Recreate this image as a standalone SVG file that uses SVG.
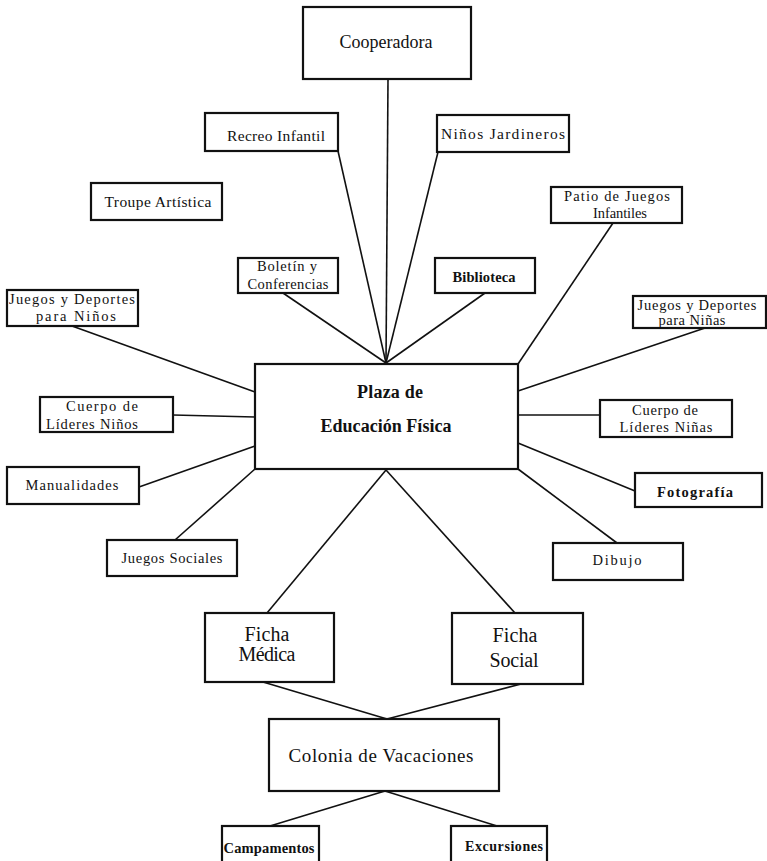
<svg xmlns="http://www.w3.org/2000/svg" width="767" height="861" viewBox="0 0 767 861">
<style>
.box{fill:#fff;stroke:#111;stroke-width:2.2}
.ln{stroke:#111;stroke-width:1.6;fill:none}
text{font-family:"Liberation Serif","Times New Roman",serif;fill:#111;text-anchor:middle}
.s{font-size:14.5px}
.m{font-size:15.5px}
.l{font-size:20px}
.b{font-weight:bold}
</style>
<rect width="767" height="861" fill="#fff"/>
<g id="connectors">
<line class="ln" x1="388" y1="79" x2="386" y2="363"/>
<line class="ln" x1="338" y1="151" x2="386" y2="363"/>
<line class="ln" x1="438" y1="152" x2="386" y2="363"/>
<line class="ln" x1="283" y1="293" x2="386" y2="363"/>
<line class="ln" x1="485" y1="293" x2="386" y2="363"/>
<line class="ln" x1="613" y1="223" x2="518" y2="364"/>
<line class="ln" x1="72" y1="326" x2="255" y2="392"/>
<line class="ln" x1="705" y1="328" x2="518" y2="391"/>
<line class="ln" x1="173" y1="415" x2="255" y2="417"/>
<line class="ln" x1="518" y1="415" x2="600" y2="415"/>
<line class="ln" x1="139" y1="487" x2="255" y2="446"/>
<line class="ln" x1="175" y1="540" x2="255" y2="469"/>
<line class="ln" x1="518" y1="443" x2="635" y2="491"/>
<line class="ln" x1="518" y1="469" x2="617" y2="543"/>
<line class="ln" x1="386" y1="470" x2="267" y2="613"/>
<line class="ln" x1="386" y1="470" x2="515" y2="613"/>
<line class="ln" x1="263" y1="682" x2="387" y2="719"/>
<line class="ln" x1="521" y1="684" x2="387" y2="719"/>
<line class="ln" x1="385" y1="791" x2="270" y2="826"/>
<line class="ln" x1="385" y1="791" x2="497" y2="826"/>
</g>
<g id="cooperadora"><rect class="box" x="303" y="7" width="168" height="72"/><text x="386" y="48" font-size="18" textLength="93">Cooperadora</text></g>
<g id="recreo"><rect class="box" x="205" y="113" width="133" height="38"/><text class="m" x="276" y="141" textLength="98">Recreo Infantil</text></g>
<g id="troupe"><rect class="box" x="91" y="183" width="131" height="37"/><text class="m" x="158" y="207" textLength="107">Troupe Artística</text></g>
<g id="jardineros"><rect class="box" x="437" y="115" width="132" height="37"/><text class="m" x="503" y="139" textLength="124">Niños Jardineros</text></g>
<g id="patio"><rect class="box" x="551" y="187" width="131" height="36"/><text class="s" x="617" y="201" textLength="106">Patio de Juegos</text><text class="s" x="620" y="218" textLength="54">Infantiles</text></g>
<g id="boletin"><rect class="box" x="238" y="258" width="100" height="35"/><text class="s" x="287" y="271" textLength="60">Boletín y</text><text class="s" x="288" y="289" textLength="81">Conferencias</text></g>
<g id="biblioteca"><rect class="box" x="435" y="258" width="100" height="35"/><text class="s b" x="484" y="282" textLength="63">Biblioteca</text></g>
<g id="jyd-ninos"><rect class="box" x="7" y="290" width="131" height="36"/><text class="s" x="72" y="304" textLength="126">Juegos y Deportes</text><text class="s" x="76" y="321" textLength="80">para Niños</text></g>
<g id="jyd-ninas"><rect class="box" x="633" y="296" width="133" height="32"/><text class="s" x="697" y="310" textLength="119">Juegos y Deportes</text><text class="s" x="692" y="325" textLength="67">para Niñas</text></g>
<g id="plaza"><rect class="box" x="255" y="364" width="263" height="105"/><text class="b" x="390" y="398" font-size="18" textLength="66">Plaza de</text><text class="b" x="386" y="432" font-size="18" textLength="131">Educación Física</text></g>
<g id="cuerpo-ninos"><rect class="box" x="40" y="397" width="133" height="35"/><text class="s" x="102" y="411" textLength="72">Cuerpo de</text><text class="s" x="92" y="429" textLength="92">Líderes Niños</text></g>
<g id="cuerpo-ninas"><rect class="box" x="600" y="400" width="132" height="37"/><text class="s" x="665" y="415" textLength="66">Cuerpo de</text><text class="s" x="666" y="432" textLength="93">Líderes Niñas</text></g>
<g id="manualidades"><rect class="box" x="7" y="467" width="132" height="37"/><text class="s" x="72" y="490" textLength="93">Manualidades</text></g>
<g id="fotografia"><rect class="box" x="635" y="473" width="127" height="34"/><text class="s b" x="695" y="497" textLength="76">Fotografía</text></g>
<g id="juegos-sociales"><rect class="box" x="107" y="540" width="130" height="36"/><text class="s" x="172" y="563" textLength="101">Juegos Sociales</text></g>
<g id="dibujo"><rect class="box" x="553" y="543" width="130" height="37"/><text class="s" x="617" y="565" textLength="49">Dibujo</text></g>
<g id="ficha-medica"><rect class="box" x="205" y="613" width="129" height="69"/><text class="l" x="267" y="641" textLength="45">Ficha</text><text class="l" x="267" y="661" textLength="57">Médica</text></g>
<g id="ficha-social"><rect class="box" x="452" y="613" width="131" height="71"/><text class="l" x="515" y="642" textLength="45">Ficha</text><text class="l" x="514" y="667" textLength="49">Social</text></g>
<g id="colonia"><rect class="box" x="269" y="719" width="230" height="72"/><text x="381" y="762" font-size="19" textLength="185">Colonia de Vacaciones</text></g>
<g id="campamentos"><rect class="box" x="222" y="826" width="97" height="42"/><text class="b" x="269" y="853" font-size="14.5" textLength="91">Campamentos</text></g>
<g id="excursiones"><rect class="box" x="451" y="826" width="96" height="42"/><text class="b" x="504" y="851" font-size="14" textLength="78">Excursiones</text></g>
</svg>
